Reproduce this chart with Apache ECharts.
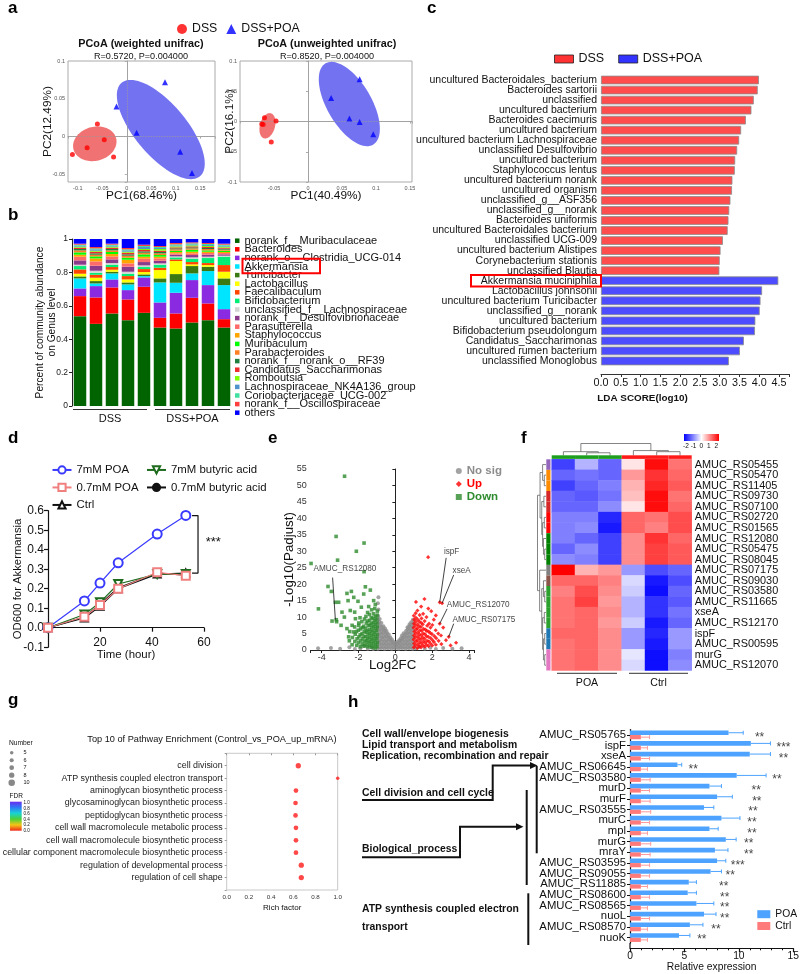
<!DOCTYPE html>
<html>
<head>
<meta charset="utf-8">
<title>Figure</title>
<script src="https://cdn.jsdelivr.net/npm/echarts@6/dist/echarts.min.js"></script>
<style>
  html, body { margin: 0; padding: 0; background: #fff; }
  #fig { width: 800px; height: 974px; }
</style>
</head>
<body>
<div id="fig"></div>
<script>
const FONT = '"Liberation Sans", Arial, Helvetica, sans-serif';

// ---------- a: PCoA ----------
const pcoaWeightedDss = [[-0.111, -0.0235], [-0.081, -0.0146], [-0.060, 0.0168], [-0.046, -0.004], [-0.027, -0.027]];
const pcoaWeightedPoa = [[-0.021, 0.040], [0.020, 0.005], [0.078, 0.072], [0.109, -0.020], [0.133, -0.048]];
const pcoaUnweightedDss = [[-0.064, 0.006], [-0.068, -0.004], [-0.066, -0.005], [-0.047, 0.001], [-0.054, -0.034]];
const pcoaUnweightedPoa = [[0.076, 0.070], [0.034, 0.039], [0.061, 0.005], [0.076, -0.001], [0.096, -0.021]];
// confidence ellipses: centre + two semi-axis vectors, data units
const ellWeightedDss = { c: [-0.0653, -0.0095], u: [0.0434, 0.0075], v: [0.009, -0.0217] };
const ellWeightedPoa = { c: [0.0694, 0.0094], u: [0.080, -0.0618], v: [0.0406, 0.0221] };
const ellUnweightedDss = { c: [-0.0596, -0.0071], u: [0.005, 0.0207], v: [0.0107, -0.0032] };
const ellUnweightedPoa = { c: [0.0608, 0.0289], u: [0.0349, -0.0673], v: [0.0283, 0.0182] };

// ---------- b: genus composition ----------
const samples = ['DSS1', 'DSS2', 'DSS3', 'DSS4', 'DSS5', 'POA1', 'POA2', 'POA3', 'POA4', 'POA5'];
const genera = ['norank_f__Muribaculaceae', 'Bacteroides', 'norank_o__Clostridia_UCG-014', 'Akkermansia', 'Turicibacter',
  'Lactobacillus', 'Faecalibaculum', 'Bifidobacterium', 'unclassified_f__Lachnospiraceae', 'norank_f__Desulfovibrionaceae',
  'Parasutterella', 'Staphylococcus', 'Muribaculum', 'Parabacteroides', 'norank_f__norank_o__RF39', 'Candidatus_Saccharimonas',
  'Romboutsia', 'Lachnospiraceae_NK4A136_group', 'Coriobacteriaceae_UCG-002', 'norank_f__Oscillospiraceae', 'others'];
const genusColors = ['#006400', '#FF0000', '#8A2BE2', '#00E5FF', '#3B7A12', '#FFFF00', '#FF4500', '#00EE76', '#D3D3D3', '#8B3A8B',
  '#FF6A6A', '#FFA500', '#00FF00', '#FF7F24', '#1F7F3F', '#EE2C2C', '#7FFF00', '#4F94CD', '#40E0A0', '#FF3E3E', '#0000FF'];
const abundance = [
  [0.538, 0.492, 0.554, 0.514, 0.558, 0.470, 0.464, 0.500, 0.514, 0.470],
  [0.120, 0.158, 0.156, 0.124, 0.156, 0.058, 0.090, 0.148, 0.100, 0.050],
  [0.046, 0.068, 0.048, 0.056, 0.056, 0.092, 0.124, 0.106, 0.110, 0.060],
  [0.060, 0.016, 0.036, 0.034, 0.008, 0.120, 0.060, 0.040, 0.084, 0.144],
  [0.012, 0.014, 0.010, 0.012, 0.010, 0.024, 0.052, 0.044, 0.026, 0.040],
  [0.016, 0.020, 0.012, 0.018, 0.014, 0.050, 0.078, 0.010, 0.010, 0.040],
  [0.026, 0.018, 0.016, 0.020, 0.018, 0.014, 0.010, 0.014, 0.012, 0.040],
  [0.020, 0.012, 0.014, 0.014, 0.012, 0.018, 0.012, 0.020, 0.030, 0.050],
  [0.008, 0.012, 0.010, 0.012, 0.010, 0.008, 0.006, 0.008, 0.008, 0.006],
  [0.026, 0.030, 0.022, 0.030, 0.020, 0.016, 0.010, 0.014, 0.012, 0.008],
  [0.022, 0.026, 0.018, 0.020, 0.020, 0.014, 0.008, 0.010, 0.010, 0.008],
  [0.012, 0.018, 0.014, 0.022, 0.012, 0.010, 0.008, 0.010, 0.008, 0.006],
  [0.014, 0.012, 0.012, 0.012, 0.014, 0.010, 0.008, 0.012, 0.008, 0.008],
  [0.012, 0.010, 0.010, 0.012, 0.010, 0.010, 0.008, 0.008, 0.008, 0.006],
  [0.008, 0.008, 0.008, 0.008, 0.008, 0.008, 0.006, 0.006, 0.006, 0.006],
  [0.008, 0.010, 0.008, 0.010, 0.008, 0.008, 0.006, 0.006, 0.006, 0.006],
  [0.006, 0.006, 0.006, 0.006, 0.006, 0.010, 0.006, 0.006, 0.006, 0.006],
  [0.006, 0.008, 0.006, 0.008, 0.012, 0.006, 0.006, 0.006, 0.006, 0.006],
  [0.006, 0.006, 0.006, 0.006, 0.006, 0.006, 0.006, 0.006, 0.006, 0.006],
  [0.006, 0.008, 0.006, 0.008, 0.008, 0.006, 0.008, 0.006, 0.006, 0.006],
  [0.028, 0.048, 0.028, 0.054, 0.034, 0.042, 0.024, 0.020, 0.024, 0.028]
];

// ---------- c: LEfSe ----------
const ldaDssNames = ['uncultured Bacteroidales_bacterium', 'Bacteroides sartorii', 'unclassified', 'uncultured bacterium',
  'Bacteroides caecimuris', 'uncultured bacterium', 'uncultured bacterium Lachnospiraceae', 'unclassified Desulfovibrio',
  'uncultured bacterium', 'Staphylococcus lentus', 'uncultured bacterium norank', 'uncultured organism',
  'unclassified_g__ASF356', 'unclassified_g__norank', 'Bacteroides uniformis', 'uncultured Bacteroidales bacterium',
  'unclassified UCG-009', 'uncultured bacterium Alistipes', 'Corynebacterium stationis', 'unclassified Blautia'];
const ldaDssScores = [3.99, 3.96, 3.86, 3.80, 3.66, 3.54, 3.49, 3.44, 3.39, 3.38, 3.32, 3.31, 3.27, 3.24, 3.22, 3.20, 3.08, 3.02, 3.00, 2.99];
const ldaPoaNames = ['Akkermansia muciniphila', 'Lactobacillus johnsonii', 'uncultured bacterium Turicibacter',
  'unclassified_g__norank', 'uncultured bacterium', 'Bifidobacterium pseudolongum', 'Candidatus_Saccharimonas',
  'uncultured rumen bacterium', 'unclassified Monoglobus'];
const ldaPoaScores = [4.48, 4.07, 4.03, 4.01, 3.90, 3.89, 3.61, 3.51, 3.23];

// ---------- d: growth curves ----------
const dHours = [0, 14, 20, 27, 42, 53];
const d7mMPoa = [0, 0.137, 0.229, 0.333, 0.480, 0.576];
const d07mMPoa = [0, 0.056, 0.116, 0.200, 0.284, 0.267];
const d7mMBut = [0, 0.068, 0.130, 0.224, 0.275, 0.275];
const d07mMBut = [0, 0.055, 0.120, 0.205, 0.280, 0.270];
const dCtrl = [0, 0.050, 0.110, 0.200, 0.275, 0.280];
const dSigBracket = [[55.4, 0.575], [57.7, 0.575], [57.7, 0.28], [55.4, 0.28]];

// ---------- e: volcano (log2FC, -log10 padj) ----------
const volcanoNoSig = [
  [-0.95, 0.4], [-0.97, 1.5], [-0.94, 2.6], [-0.96, 3.7], [-0.93, 4.8], [-0.95, 5.9], [-0.97, 7.0], [-0.94, 8.1], [-0.96, 9.2], [-0.93, 10.3], [-0.92, 12.3], [-0.95, 14.2], [-0.92, 16.0],
  [-0.86, 0.8], [-0.84, 1.9], [-0.87, 3.0], [-0.85, 4.1], [-0.83, 5.2], [-0.86, 6.3], [-0.84, 7.4], [-0.87, 8.5], [-0.85, 9.4],
  [-0.77, 0.5], [-0.75, 1.6], [-0.78, 2.7], [-0.76, 3.8], [-0.74, 4.9], [-0.77, 6.0], [-0.75, 7.1], [-0.76, 8.2],
  [-0.67, 0.9], [-0.65, 2.0], [-0.68, 3.1], [-0.66, 4.2], [-0.64, 5.3], [-0.67, 6.4], [-0.65, 7.2],
  [-0.58, 0.4], [-0.56, 1.5], [-0.59, 2.6], [-0.57, 3.7], [-0.55, 4.8], [-0.58, 5.9], [-0.56, 6.5],
  [-0.48, 0.8], [-0.46, 1.9], [-0.49, 3.0], [-0.47, 4.1], [-0.45, 5.1], [-0.48, 5.8],
  [-0.39, 0.5], [-0.37, 1.6], [-0.40, 2.7], [-0.38, 3.8], [-0.36, 4.7],
  [-0.29, 0.9], [-0.27, 2.0], [-0.30, 3.1], [-0.28, 3.9],
  [-0.20, 0.4], [-0.18, 1.5], [-0.21, 2.6], [-0.19, 3.2],
  [-0.10, 0.8], [-0.08, 1.9], [-0.11, 2.5],
  [-0.01, 0.5], [0.01, 1.4], [0.00, 2.1],
  [0.08, 0.9], [0.10, 1.8], [0.09, 2.4],
  [0.18, 0.4], [0.20, 1.3], [0.19, 2.3], [0.21, 3.0],
  [0.27, 0.8], [0.29, 1.9], [0.28, 2.9], [0.30, 3.6],
  [0.37, 0.5], [0.39, 1.6], [0.38, 2.7], [0.40, 3.7], [0.36, 4.4],
  [0.46, 0.9], [0.48, 2.0], [0.47, 3.1], [0.49, 4.2], [0.45, 5.1],
  [0.56, 0.4], [0.58, 1.5], [0.57, 2.6], [0.59, 3.7], [0.55, 4.8], [0.58, 5.8],
  [0.65, 0.8], [0.67, 1.9], [0.66, 3.0], [0.68, 4.1], [0.64, 5.2], [0.67, 6.3], [0.66, 6.9],
  [0.75, 0.5], [0.77, 1.6], [0.76, 2.7], [0.78, 3.8], [0.74, 4.9], [0.77, 6.0], [0.75, 7.1], [0.77, 7.8],
  [0.84, 0.9], [0.86, 2.0], [0.85, 3.1], [0.87, 4.2], [0.83, 5.3], [0.86, 6.4], [0.84, 7.5], [0.86, 8.4],
  [0.94, 0.4], [0.96, 1.5], [0.95, 2.6], [0.97, 3.7], [0.93, 4.8], [0.96, 5.9], [0.94, 7.0], [0.96, 8.1], [0.95, 9.2],
  [-4.2, 0.5], [-3.5, 0.6], [-3.0, 0.4], [-2.5, 0.8], [-2.2, 0.3], [-1.9, 0.5], [-1.7, 1.2], [-1.5, 0.4], [-1.3, 0.9], [-1.2, 0.3],
  [1.1, 0.5], [1.3, 0.9], [1.6, 0.4], [1.9, 0.7], [2.2, 0.3], [2.6, 0.6], [3.1, 0.4], [3.6, 0.5]
];
const volcanoDown = [
  [-2.76, 52.8], [-4.58, 26.3], [-3.22, 34.5], [-3.14, 27.3], [-1.70, 32.5], [-2.12, 30.0], [-1.70, 23.8], [-3.66, 19.3],
  [-3.48, 17.8], [-4.18, 12.5], [-3.44, 8.8], [-3.19, 8.6], [-3.26, 14.5], [-3.08, 14.5], [-3.21, 9.2],
  [-2.63, 17.2], [-2.39, 17.8], [-2.57, 15.0], [-2.26, 16.0], [-2.03, 14.8], [-1.72, 17.0], [-1.36, 18.2], [-1.63, 19.2],
  [-1.18, 15.0], [-1.09, 13.8], [-1.45, 13.2], [-1.85, 13.0], [-2.90, 11.5], [-2.77, 10.0], [-2.45, 12.0], [-2.21, 11.5],
  [-2.17, 9.5], [-2.35, 7.5], [-2.63, 6.5], [-1.99, 7.5], [-2.95, 7.5], [-2.54, 4.0], [-2.27, 5.5],
  [-1.00, 1.0], [-0.98, 2.2], [-1.01, 3.4], [-0.99, 4.6], [-1.02, 5.8], [-0.98, 7.0], [-1.00, 8.2], [-1.01, 9.4], [-0.99, 10.6], [-0.98, 11.8],
  [-1.10, 0.6], [-1.08, 1.8], [-1.11, 3.0], [-1.09, 4.2], [-1.12, 5.4], [-1.08, 6.6], [-1.10, 7.8], [-1.11, 9.0], [-1.09, 10.2], [-1.12, 12.6],
  [-1.20, 1.2], [-1.18, 2.4], [-1.21, 3.6], [-1.19, 4.8], [-1.22, 6.0], [-1.18, 7.2], [-1.20, 8.4], [-1.21, 9.6], [-1.19, 11.0],
  [-1.30, 0.8], [-1.28, 2.0], [-1.31, 3.2], [-1.29, 4.4], [-1.32, 5.6], [-1.28, 6.8], [-1.30, 8.0], [-1.31, 9.8], [-1.29, 12.2],
  [-1.40, 1.4], [-1.38, 2.6], [-1.41, 3.8], [-1.39, 5.0], [-1.42, 6.2], [-1.38, 7.6], [-1.40, 9.0], [-1.41, 10.8],
  [-1.50, 1.0], [-1.48, 2.2], [-1.51, 3.4], [-1.49, 4.6], [-1.52, 5.8], [-1.48, 7.4], [-1.50, 8.8], [-1.51, 11.4],
  [-1.60, 1.6], [-1.58, 2.8], [-1.61, 4.0], [-1.59, 5.4], [-1.62, 6.6], [-1.58, 8.2], [-1.60, 10.2],
  [-1.70, 1.2], [-1.68, 2.6], [-1.71, 4.2], [-1.69, 5.6], [-1.72, 7.2], [-1.68, 9.4],
  [-1.80, 1.8], [-1.78, 3.4], [-1.81, 5.0], [-1.79, 6.8], [-1.82, 8.6],
  [-1.90, 1.0], [-1.88, 2.8], [-1.91, 4.6], [-1.89, 6.4], [-1.92, 9.8],
  [-2.00, 2.2], [-1.98, 4.0], [-2.01, 6.0], [-1.99, 8.2],
  [-2.10, 1.4], [-2.08, 3.4], [-2.11, 5.6],
  [-2.20, 2.6], [-2.18, 4.8], [-2.21, 7.0],
  [-2.35, 1.6], [-2.33, 3.8], [-2.50, 2.8], [-2.48, 5.6]
];
const volcanoUp = [
  [1.78, 28.2], [1.58, 15.5], [2.41, 14.5], [2.54, 14.2], [2.41, 8.0], [2.90, 4.0], [1.12, 14.6], [3.0, 1.4], [3.3, 2.2],
  [2.75, 3.0], [2.6, 6.8], [1.95, 11.8], [2.2, 10.5],
  [1.00, 0.8], [1.02, 2.0], [0.99, 3.2], [1.01, 4.4], [1.03, 5.6], [0.99, 6.8], [1.01, 8.0], [1.02, 9.2], [1.00, 10.4],
  [1.10, 1.4], [1.12, 2.6], [1.09, 3.8], [1.11, 5.0], [1.13, 6.2], [1.09, 7.4], [1.11, 8.6], [1.12, 9.8], [1.10, 11.2],
  [1.20, 0.6], [1.22, 1.8], [1.19, 3.0], [1.21, 4.2], [1.23, 5.4], [1.19, 6.6], [1.21, 7.8], [1.22, 9.2], [1.20, 12.0],
  [1.30, 1.2], [1.32, 2.4], [1.29, 3.6], [1.31, 4.8], [1.33, 6.0], [1.29, 7.2], [1.31, 8.6], [1.32, 10.6],
  [1.40, 0.8], [1.42, 2.0], [1.39, 3.2], [1.41, 4.4], [1.43, 5.8], [1.39, 7.0], [1.41, 8.2], [1.42, 9.6], [1.40, 13.2],
  [1.50, 1.4], [1.52, 2.6], [1.49, 3.8], [1.51, 5.0], [1.53, 6.4], [1.49, 7.8], [1.51, 11.0],
  [1.60, 1.0], [1.62, 2.2], [1.59, 3.4], [1.61, 4.8], [1.63, 6.2], [1.59, 8.8],
  [1.70, 1.6], [1.72, 2.8], [1.69, 4.2], [1.71, 5.8], [1.73, 7.4], [1.69, 10.0],
  [1.80, 1.2], [1.82, 2.6], [1.79, 4.0], [1.81, 5.6], [1.83, 8.0], [1.79, 12.6],
  [1.90, 2.0], [1.92, 3.6], [1.89, 5.2], [1.91, 6.8],
  [2.00, 1.4], [2.02, 3.0], [1.99, 4.8], [2.01, 7.6],
  [2.10, 2.4], [2.12, 4.2], [2.09, 9.2],
  [2.20, 1.6], [2.22, 3.6], [2.19, 6.0],
  [2.35, 2.8], [2.33, 5.0], [2.50, 1.8], [2.48, 4.4]
];
const volcanoNotes = [
  { text: 'AMUC_RS12080', at: [-4.47, 24.7], from: [-3.41, 22.0], to: [-3.26, 9.2] },
  { text: 'ispF', at: [2.61, 29.8], from: [2.76, 28.0], to: [2.41, 14.5] },
  { text: 'xseA', at: [3.08, 24.0], from: [3.17, 22.8], to: [2.54, 14.2] },
  { text: 'AMUC_RS12070', at: [2.77, 13.7], from: [2.81, 12.5], to: [2.41, 8.0] },
  { text: 'AMUC_RS07175', at: [3.08, 9.2], from: [3.17, 8.0], to: [2.90, 4.0] }
];

// ---------- f: heatmap (row z-scores) ----------
const heatRows = ['AMUC_RS05455', 'AMUC_RS05470', 'AMUC_RS11405', 'AMUC_RS09730', 'AMUC_RS07100', 'AMUC_RS02720',
  'AMUC_RS01565', 'AMUC_RS12080', 'AMUC_RS05475', 'AMUC_RS08045', 'AMUC_RS07175', 'AMUC_RS09030', 'AMUC_RS03580',
  'AMUC_RS11665', 'xseA', 'AMUC_RS12170', 'ispF', 'AMUC_RS00595', 'murG', 'AMUC_RS12070'];
const heatCols = ['POA1', 'POA2', 'POA3', 'Ctrl1', 'Ctrl2', 'Ctrl3'];
const heatZ = [
  [-1.5, -0.6, -1.2, 0.2, 1.9, 1.1],
  [-1.2, -1.1, -1.2, 0.8, 1.6, 1.2],
  [-1.5, -1.2, -1.0, 0.6, 1.7, 1.3],
  [-1.2, -1.3, -1.1, 0.5, 1.9, 1.1],
  [-1.2, -1.2, -0.9, 0.2, 1.9, 1.2],
  [-1.0, -1.0, -1.7, 1.2, 1.1, 1.4],
  [-1.0, -0.9, -1.8, 1.2, 1.0, 1.4],
  [-1.0, -1.2, -1.5, 0.9, 1.6, 1.2],
  [-1.2, -0.9, -1.5, 0.9, 1.5, 1.3],
  [-0.9, -1.0, -1.5, 0.9, 1.5, 1.3],
  [2.0, 0.6, 0.8, -0.8, -1.4, -1.2],
  [1.2, 1.2, 1.0, -0.3, -1.8, -1.4],
  [1.0, 1.4, 0.9, -0.4, -1.9, -1.2],
  [1.1, 1.5, 0.8, -0.6, -1.6, -1.3],
  [1.1, 1.2, 0.9, -0.6, -1.6, -1.1],
  [1.1, 1.2, 0.8, -0.4, -1.8, -1.2],
  [1.2, 1.2, 0.9, -0.8, -1.7, -0.8],
  [1.1, 1.2, 0.9, -0.8, -1.8, -0.8],
  [1.1, 1.2, 0.9, -0.2, -1.9, -1.0],
  [1.1, 1.2, 0.9, -0.3, -1.9, -0.9]
];
const rowAnnotColors = ['#9467BD', '#FF8C00', '#FF8C00', '#D62728', '#D62728', '#FF0000', '#FF0000', '#008000', '#008000', '#008000',
  '#808080', '#8C564B', '#2CA02C', '#2CA02C', '#2CA02C', '#2CA02C', '#1F77B4', '#1F77B4', '#E377C2', '#E377C2'];
const colAnnotColors = ['#1E9E1E', '#1E9E1E', '#1E9E1E', '#FF1A1A', '#FF1A1A', '#FF1A1A'];
// dendrograms: [height, left, right], leaves are indices
const colTree = [11, [3.5, 0, [2.5, 1, 2]], [4.5, 3, [3.5, 4, 5]]];
const rowTree = [10, [7, [4, 0, [2, 1, 2]], [5, [2.5, 3, 4], [4, [2, 5, 6], [3, 7, [1.5, 8, 9]]]]],
  [7.5, 10, [5, [3, 11, [1.5, 12, 13]], [4, [2, 14, 15], [3, [1.5, 16, 17], [1.5, 18, 19]]]]]];

// ---------- g: enrichment ----------
const gTerms = ['cell division', 'ATP synthesis coupled electron transport', 'aminoglycan biosynthetic process',
  'glycosaminoglycan biosynthetic process', 'peptidoglycan biosynthetic process', 'cell wall macromolecule metabolic process',
  'cell wall macromolecule biosynthetic process', 'cellular component macromolecule biosynthetic process',
  'regulation of developmental process', 'regulation of cell shape'];
const gRich = [0.645, 1.0, 0.624, 0.62, 0.62, 0.624, 0.624, 0.624, 0.672, 0.672];
const gNumber = [8, 5, 7, 7, 7, 7, 7, 7, 8, 8];
const gNumberTicks = [5, 6, 7, 8, 10];

// ---------- h: qPCR ----------
const hGenes = ['AMUC_RS05765', 'ispF', 'xseA', 'AMUC_RS06645', 'AMUC_RS03580', 'murD', 'murF', 'AMUC_RS03555', 'murC', 'mpl',
  'murG', 'mraY', 'AMUC_RS03595', 'AMUC_RS09055', 'AMUC_RS11885', 'AMUC_RS08600', 'AMUC_RS08565', 'nuoL', 'AMUC_RS08570', 'nuoK'];
const hPoa = [9.05, 11.1, 11.0, 4.36, 9.8, 7.3, 8.0, 6.8, 8.4, 7.3, 8.8, 7.8, 8.0, 7.4, 5.4, 5.3, 6.1, 6.8, 5.5, 4.5];
const hPoaSd = [1.35, 1.8, 1.9, 0.39, 2.7, 1.1, 1.4, 0.9, 1.7, 0.8, 0.95, 1.2, 0.8, 1.0, 0.7, 0.8, 1.6, 1.1, 1.2, 1.0];
const hCtrl = [1, 1, 1, 1, 1, 1, 1, 1, 1, 1, 1, 1, 1, 1, 1, 1, 1, 1, 1, 1];
const hCtrlSd = [0.8, 0.6, 0.8, 0.6, 0.85, 0.8, 0.85, 0.9, 0.8, 0.6, 0.9, 0.85, 0.8, 0.8, 0.6, 0.8, 0.6, 0.8, 0.6, 0.6];
const hSig = ['**', '***', '**', '**', '**', '**', '**', '**', '**', '**', '**', '**', '***', '**', '**', '**', '**', '**', '**', '**'];
const hSigX = [11.9, 14.1, 14.1, 5.8, 13.5, 11.6, 11.65, 11.3, 11.2, 11.2, 10.9, 10.9, 9.9, 9.2, 8.6, 8.7, 8.7, 8.7, 7.9, 6.6];

// ================= build =================
const grids = [], xAxes = [], yAxes = [], series = [], legends = [], graphics = [];
const hidden = { show: false };
function addGrid(g, xa, ya) {
  const idx = grids.length;
  grids.push(Object.assign({ outerBoundsMode: 'none', containLabel: false }, g));
  xAxes.push(Object.assign({ gridIndex: idx, nameMoveOverlap: false }, xa));
  yAxes.push(Object.assign({ gridIndex: idx, nameMoveOverlap: false }, ya));
  return idx;
}
function bare(extra) {
  return Object.assign({ axisLine: hidden, axisTick: hidden, axisLabel: hidden, splitLine: hidden }, extra);
}
function line(color, w) { return { show: true, lineStyle: { color: color, width: w || 1 } }; }
function tick(color, len, w) { return { show: true, length: len, lineStyle: { color: color, width: w || 1 } }; }
function multOf(step) {
  return v => Math.abs(v / step - Math.round(v / step)) < 1e-6 ? String(+v.toFixed(2)) : '';
}
function txt(x, y, s, size, o) {
  o = o || {};
  const al = o.align || 'left';
  return { type: 'text', x: x, y: y, silent: true, z: 100,
    style: { text: s, fill: o.color || '#111', fontSize: size, fontFamily: FONT, fontWeight: o.bold ? 'bold' : 'normal',
      align: al, textAlign: al, verticalAlign: 'middle', textVerticalAlign: 'middle' } };
}
function seg(pts, w, color) {
  return { type: 'polyline', silent: true, z: 100, shape: { points: pts }, style: { stroke: color || '#111', lineWidth: w || 1, fill: null } };
}
function ellipseSeries(ax, e, color) {
  return { type: 'custom', xAxisIndex: ax, yAxisIndex: ax, silent: true, z: 1, data: [e.c],
    renderItem: function (params, api) {
      const pts = [];
      for (let k = 0; k < 90; k++) {
        const t = k / 90 * Math.PI * 2;
        pts.push(api.coord([e.c[0] + Math.cos(t) * e.u[0] + Math.sin(t) * e.v[0],
                            e.c[1] + Math.cos(t) * e.u[1] + Math.sin(t) * e.v[1]]));
      }
      return { type: 'polygon', shape: { points: pts }, style: { fill: color } };
    } };
}
function dendro(node) {
  if (typeof node === 'number') return { pos: node, h: 0, segs: [] };
  const l = dendro(node[1]), r = dendro(node[2]);
  const segs = l.segs.concat(r.segs);
  segs.push([[l.pos, l.h], [l.pos, node[0]], [r.pos, node[0]], [r.pos, r.h]]);
  return { pos: (l.pos + r.pos) / 2, h: node[0], segs: segs };
}

// ----- a -----
const tinyLbl = { fontSize: 5.5, color: '#555', margin: 3 };
const paName = { fontSize: 11.8, color: '#111' };
const GA1 = addGrid({ left: 68, top: 61, width: 147, height: 121, show: true, borderColor: '#aaa', borderWidth: 1 },
  { type: 'value', min: -0.12, max: 0.18, splitNumber: 6, axisLine: line('#aaa'), axisTick: tick('#aaa', 2), splitLine: hidden,
    axisLabel: Object.assign({ formatter: multOf(0.05) }, tinyLbl),
    name: 'PC1(68.46%)', nameLocation: 'middle', nameGap: 8, nameTextStyle: paName },
  { type: 'value', min: -0.06, max: 0.1, splitNumber: 3, axisLine: line('#aaa'), axisTick: tick('#aaa', 2), splitLine: hidden,
    axisLabel: Object.assign({ formatter: multOf(0.05) }, tinyLbl),
    name: 'PC2(12.49%)', nameLocation: 'middle', nameGap: 14.5, nameTextStyle: paName });
const GA2 = addGrid({ left: 240, top: 61, width: 172, height: 121, show: true, borderColor: '#aaa', borderWidth: 1 },
  { type: 'value', min: -0.1, max: 0.153, interval: 0.05, axisLine: line('#aaa'), axisTick: tick('#aaa', 2), splitLine: hidden,
    axisLabel: Object.assign({ formatter: v => (v < -0.099 ? '' : multOf(0.05)(v)) }, tinyLbl),
    name: 'PC1(40.49%)', nameLocation: 'middle', nameGap: 8, nameTextStyle: paName },
  { type: 'value', min: -0.1, max: 0.1, interval: 0.05, axisLine: line('#aaa'), axisTick: tick('#aaa', 2), splitLine: hidden,
    axisLabel: Object.assign({ formatter: multOf(0.05) }, tinyLbl),
    name: 'PC2(16.1%)', nameLocation: 'middle', nameGap: 4.5, nameTextStyle: paName });
[[GA1, pcoaWeightedDss, pcoaWeightedPoa, ellWeightedDss, ellWeightedPoa],
 [GA2, pcoaUnweightedDss, pcoaUnweightedPoa, ellUnweightedDss, ellUnweightedPoa]].forEach(p => {
  series.push(ellipseSeries(p[0], p[3], '#F07272'));
  series.push(ellipseSeries(p[0], p[4], '#7373F2'));
  series.push({ name: 'DSS', type: 'scatter', xAxisIndex: p[0], yAxisIndex: p[0], data: p[1], symbol: 'circle', symbolSize: 5,
    itemStyle: { color: '#FF0000' }, z: 3 });
  series.push({ name: 'DSS+POA', type: 'scatter', xAxisIndex: p[0], yAxisIndex: p[0], data: p[2], symbol: 'triangle', symbolSize: 6,
    itemStyle: { color: '#0000FF' }, z: 3,
    markLine: { silent: true, z: 2, symbol: 'none', label: { show: false },
      lineStyle: { color: '#999', type: 'dotted', width: 0.8 }, data: [{ xAxis: 0 }, { yAxis: 0 }] } });
});
legends.push({ selectedMode: false, left: 177, top: 22, padding: 0, itemWidth: 10, itemHeight: 10, itemGap: 9,
  textStyle: { fontSize: 12.3, lineHeight: 14, color: '#111' },
  data: [{ name: 'DSS', icon: 'circle' }, { name: 'DSS+POA', icon: 'triangle' }] });
graphics.push(txt(141, 44, 'PCoA (weighted unifrac)', 10.8, { bold: true, align: 'center' }));
graphics.push(txt(141, 56, 'R=0.5720, P=0.004000', 9.1, { align: 'center' }));
graphics.push(txt(327, 44, 'PCoA (unweighted unifrac)', 10.8, { bold: true, align: 'center' }));
graphics.push(txt(327, 56, 'R=0.8520, P=0.004000', 9.1, { align: 'center' }));

// ----- b -----
const GB = addGrid({ left: 72, top: 239, width: 160, height: 167 },
  { type: 'category', data: samples, axisLine: hidden, axisTick: hidden, axisLabel: hidden },
  { type: 'value', min: 0, max: 1, interval: 0.2, axisLine: line('#222'), axisTick: tick('#222', 3), splitLine: hidden,
    axisLabel: { fontSize: 8.5, color: '#222', margin: 4 },
    name: 'Percent of community abundance\non Genus level', nameLocation: 'middle', nameGap: 13.5,
    nameTextStyle: { fontSize: 10.2, lineHeight: 12, color: '#111' } });
genera.forEach((g, k) => series.push({ name: g, type: 'bar', stack: 'genus', xAxisIndex: GB, yAxisIndex: GB, barWidth: 12.5,
  data: abundance[k], itemStyle: { color: genusColors[k] } }));
// the genus key sits tighter than the font height, as in the original
legends.push({ selectedMode: false, orient: 'vertical', left: 235, top: 235.2, padding: 0, itemGap: -2.4, itemWidth: 4.5, itemHeight: 4.5,
  icon: 'rect', textStyle: { fontSize: 11, color: '#111' }, data: genera });
graphics.push(seg([[73, 409.5], [147, 409.5]], 1.2, '#333'));
graphics.push(seg([[155, 409.5], [230, 409.5]], 1.2, '#333'));
graphics.push(txt(110, 418.5, 'DSS', 11, { align: 'center' }));
graphics.push(txt(192.5, 418.5, 'DSS+POA', 11, { align: 'center' }));
graphics.push({ type: 'rect', silent: true, z: 100, shape: { x: 242.5, y: 258.8, width: 77.5, height: 14.5 },
  style: { stroke: '#FF0000', lineWidth: 2, fill: null } });

// ----- c -----
const ldaNames = ldaDssNames.concat(ldaPoaNames);
const GC = addGrid({ left: 601, top: 75, width: 188, height: 291 },
  { type: 'value', min: 0, max: 4.75, interval: 0.5, offset: 8, axisLine: line('#333'), axisTick: tick('#333', 3), splitLine: hidden,
    axisLabel: { fontSize: 10.8, color: '#111', margin: 4, formatter: v => (Math.abs(v * 2 - Math.round(v * 2)) < 1e-6 ? v.toFixed(1) : '') } },
  { type: 'category', inverse: true, data: ldaNames.map((n, i) => String(i)), axisLine: hidden, axisTick: hidden,
    axisLabel: { interval: 0, fontSize: 10.5, color: '#111', margin: 4, formatter: (v, i) => ldaNames[i] } });
series.push({ name: 'DSS', type: 'bar', stack: 'lda', xAxisIndex: GC, yAxisIndex: GC, barCategoryGap: '14%',
  data: ldaDssScores.concat(ldaPoaScores.map(() => '-')),
  itemStyle: { color: '#FF4D4D', borderColor: '#8c8c8c', borderWidth: 0.8 } });
series.push({ name: 'DSS+POA', type: 'bar', stack: 'lda', xAxisIndex: GC, yAxisIndex: GC, barCategoryGap: '14%',
  data: ldaDssScores.map(() => '-').concat(ldaPoaScores),
  itemStyle: { color: '#4D4DFF', borderColor: '#8c8c8c', borderWidth: 0.8 } });
legends.push({ selectedMode: false, left: 554, top: 52, padding: 0, itemWidth: 19, itemHeight: 8, itemGap: 14,
  textStyle: { fontSize: 12.5, lineHeight: 14, color: '#111' },
  data: [{ name: 'DSS', icon: 'rect', itemStyle: { color: '#FF0000', borderColor: '#222', borderWidth: 1 } },
         { name: 'DSS+POA', icon: 'rect', itemStyle: { color: '#0000FF', borderColor: '#222', borderWidth: 1 } }] });
graphics.push(txt(597.3, 398.3, 'LDA SCORE(log10)', 9.9, { bold: true }));
graphics.push({ type: 'rect', silent: true, z: 100, shape: { x: 471, y: 275, width: 130, height: 11.5 },
  style: { stroke: '#FF0000', lineWidth: 2, fill: null } });

// ----- d -----
const GD = addGrid({ left: 48, top: 510.7, width: 156, height: 136.5 },
  { type: 'value', min: 0, max: 60, interval: 20, offset: -14, axisLine: line('#111', 1.2), axisTick: tick('#111', 4, 1.2), splitLine: hidden,
    axisLabel: { fontSize: 12, color: '#111', margin: 3, formatter: v => (v === 0 ? '' : String(v)) },
    name: 'Time (hour)', nameLocation: 'middle', nameGap: 16.5, nameTextStyle: { fontSize: 11.4, color: '#111' } },
  { type: 'value', min: -0.1, max: 0.6, interval: 0.1, axisLine: line('#111', 1.2), axisTick: tick('#111', 4, 1.2), splitLine: hidden,
    axisLabel: { fontSize: 12, color: '#111', margin: 4, formatter: v => v.toFixed(1) },
    name: 'OD600 for Akkermansia', nameLocation: 'middle', nameGap: 25, nameTextStyle: { fontSize: 11.3, color: '#111' } });
function dLine(name, vals, color, symbol, size, rot) {
  return { name: name, type: 'line', xAxisIndex: GD, yAxisIndex: GD, data: dHours.map((h, i) => [h, vals[i]]),
    symbol: symbol, symbolSize: size, symbolRotate: rot || 0, lineStyle: { color: color, width: 1.2 },
    itemStyle: { color: color, borderColor: color, borderWidth: 1.2 } };
}
series.push(dLine('7mM POA', d7mMPoa, '#3A3AFF', 'emptyCircle', 9));
series.push(dLine('Ctrl', dCtrl, '#111', 'emptyTriangle', 7));
series.push(dLine('0.7mM butyric acid', d07mMBut, '#111', 'circle', 4));
series.push(dLine('7mM butyric acid', d7mMBut, '#1E6B1E', 'emptyTriangle', 8, 180));
series.push(dLine('0.7mM POA', d07mMPoa, '#F08080', 'emptyRect', 8));
series.push({ type: 'line', xAxisIndex: GD, yAxisIndex: GD, data: dSigBracket, symbol: 'none', silent: true,
  lineStyle: { color: '#111', width: 1.2 } });
legends.push({ selectedMode: false, orient: 'vertical', left: 51.5, top: 463.2, padding: 0, itemWidth: 19, itemHeight: 9, itemGap: 4,
  textStyle: { fontSize: 11.4, lineHeight: 13.5, color: '#111' }, data: ['7mM POA', '0.7mM POA', 'Ctrl'] });
legends.push({ selectedMode: false, orient: 'vertical', left: 146, top: 463.2, padding: 0, itemWidth: 19, itemHeight: 9, itemGap: 4,
  textStyle: { fontSize: 11.4, lineHeight: 13.5, color: '#111' }, data: ['7mM butyric acid', '0.7mM butyric acid'] });
graphics.push(txt(205.7, 542.6, '***', 13));

// ----- e -----
const GE = addGrid({ left: 310.7, top: 469, width: 163.8, height: 181 },
  { type: 'value', min: -4.6, max: 4.3, splitNumber: 4, axisLine: line('#222'), axisTick: tick('#222', 3), splitLine: hidden,
    axisLabel: { fontSize: 9, color: '#333', margin: 3,
      formatter: v => (Math.abs(v - Math.round(v)) < 1e-6 && Math.round(v) % 2 === 0 ? String(Math.round(v)) : '') },
    name: 'Log2FC', nameLocation: 'middle', nameGap: 9.3, nameTextStyle: { fontSize: 13.3, color: '#111' } },
  { type: 'value', min: 0, max: 55, interval: 5, axisLine: line('#222'), axisTick: tick('#222', 3), splitLine: hidden,
    axisLabel: { fontSize: 9, color: '#333', margin: 4 },
    name: '-Log10(Padjust)', nameLocation: 'middle', nameGap: 14.7, nameTextStyle: { fontSize: 13.3, color: '#111' } });
series.push({ name: 'No sig', type: 'scatter', xAxisIndex: GE, yAxisIndex: GE, data: volcanoNoSig, symbol: 'circle', symbolSize: 4,
  itemStyle: { color: '#8C8C8C' }, z: 2 });
series.push({ name: 'Down', type: 'scatter', xAxisIndex: GE, yAxisIndex: GE, data: volcanoDown, symbol: 'rect', symbolSize: 3.6,
  itemStyle: { color: '#2E8B2E' }, z: 3 });
series.push({ name: 'Up', type: 'scatter', xAxisIndex: GE, yAxisIndex: GE, data: volcanoUp, symbol: 'diamond', symbolSize: 4.2,
  itemStyle: { color: '#FF0000' }, z: 3 });
series.push({ type: 'lines', coordinateSystem: 'cartesian2d', xAxisIndex: GE, yAxisIndex: GE, silent: true, z: 4,
  lineStyle: { color: '#111', width: 0.8, opacity: 1 }, data: volcanoNotes.map(n => ({ coords: [n.from, n.to] })) });
series.push({ type: 'scatter', xAxisIndex: GE, yAxisIndex: GE, silent: true, z: 5, symbolSize: 1, itemStyle: { color: 'rgba(0,0,0,0)' },
  data: volcanoNotes.map(n => ({ value: n.at, name: n.text })),
  label: { show: true, position: 'right', distance: 0, formatter: '{b}', fontSize: 8.2, color: '#111' } });
legends.push({ selectedMode: false, orient: 'vertical', left: 455.8, top: 464.5, padding: 0, itemWidth: 6, itemHeight: 6, itemGap: 0,
  textStyle: { fontSize: 11.5, fontWeight: 'bold', lineHeight: 13 },
  data: [{ name: 'No sig', icon: 'circle', textStyle: { color: '#8C8C8C' } },
         { name: 'Up', icon: 'diamond', textStyle: { color: '#FF0000' } },
         { name: 'Down', icon: 'rect', textStyle: { color: '#2E8B2E' } }] });

// ----- f -----
const GF = addGrid({ left: 551.7, top: 459.3, width: 140, height: 211.2 },
  bare({ type: 'category', data: heatCols }),
  { type: 'category', inverse: true, position: 'right', data: heatRows, axisLine: hidden, axisTick: hidden, splitLine: hidden,
    axisLabel: { interval: 0, fontSize: 10.9, color: '#111', margin: 3 } });
const heatIdx = series.length;
series.push({ type: 'heatmap', xAxisIndex: GF, yAxisIndex: GF, silent: true,
  data: heatZ.flatMap((row, r) => row.map((z, c) => [c, r, z])) });
const GFR = addGrid({ left: 546.3, top: 459.3, width: 4.2, height: 211.2 },
  bare({ type: 'value', min: 0, max: 1 }), bare({ type: 'category', inverse: true, data: heatRows }));
series.push({ type: 'bar', xAxisIndex: GFR, yAxisIndex: GFR, silent: true, barCategoryGap: 0,
  data: rowAnnotColors.map(c => ({ value: 1, itemStyle: { color: c } })) });
const GFC = addGrid({ left: 551.7, top: 455.3, width: 140, height: 3.6 },
  bare({ type: 'category', data: heatCols }), bare({ type: 'value', min: 0, max: 1 }));
series.push({ type: 'bar', xAxisIndex: GFC, yAxisIndex: GFC, silent: true, barCategoryGap: 0,
  data: colAnnotColors.map(c => ({ value: 1, itemStyle: { color: c } })) });
const GFT = addGrid({ left: 551.7, top: 443.5, width: 140, height: 12 },
  bare({ type: 'value', min: -0.5, max: 5.5 }), bare({ type: 'value', min: 0, max: 11 }));
series.push({ type: 'lines', coordinateSystem: 'cartesian2d', polyline: true, xAxisIndex: GFT, yAxisIndex: GFT, silent: true,
  lineStyle: { color: '#666', width: 0.8, opacity: 1 }, data: dendro(colTree).segs.map(s => ({ coords: s })) });
const GFL = addGrid({ left: 537.5, top: 459.3, width: 8.5, height: 211.2 },
  bare({ type: 'value', min: 0, max: 10, inverse: true }), bare({ type: 'value', min: -0.5, max: 19.5, inverse: true }));
series.push({ type: 'lines', coordinateSystem: 'cartesian2d', polyline: true, xAxisIndex: GFL, yAxisIndex: GFL, silent: true,
  lineStyle: { color: '#666', width: 0.8, opacity: 1 },
  data: dendro(rowTree).segs.map(s => ({ coords: s.map(p => [p[1], p[0]]) })) });
graphics.push({ type: 'rect', silent: true, z: 100, shape: { x: 684, y: 434, width: 35, height: 7 },
  style: { fill: new echarts.graphic.LinearGradient(0, 0, 1, 0, [{ offset: 0, color: '#0000FF' }, { offset: 0.5, color: '#FFFFFF' }, { offset: 1, color: '#FF0000' }]) } });
['-2', '-1', '0', '1', '2'].forEach((s, i) => graphics.push(txt(686 + i * 7.6, 446, s, 6.5, { align: 'center' })));
graphics.push(seg([[557, 673.3], [617, 673.3]], 1, '#333'));
graphics.push(seg([[629, 673.3], [688, 673.3]], 1, '#333'));
graphics.push(txt(587, 683, 'POA', 10.6, { align: 'center' }));
graphics.push(txt(658.5, 683, 'Ctrl', 10.6, { align: 'center' }));

// ----- g -----
const gSize = n => 0.6 * n + 0.5;
const GG = addGrid({ left: 226.7, top: 753.3, width: 111, height: 136.7, show: true, borderColor: '#c8c8c8', borderWidth: 1 },
  { type: 'value', min: 0, max: 1, interval: 0.2, axisLine: hidden, axisTick: tick('#999', 2), splitLine: hidden,
    axisLabel: { fontSize: 6.2, color: '#333', margin: 4, formatter: v => v.toFixed(1) },
    name: 'Rich factor', nameLocation: 'middle', nameGap: 14, nameTextStyle: { fontSize: 8, color: '#111' } },
  { type: 'value', min: 0, max: 11, interval: 1, inverse: true, axisLine: hidden, axisTick: tick('#999', 2), splitLine: hidden,
    axisLabel: { fontSize: 8.9, color: '#222', margin: 4, formatter: v => (v >= 1 && v <= 10 ? gTerms[v - 1] : '') } });
series.push({ type: 'scatter', xAxisIndex: GG, yAxisIndex: GG, clip: false, data: gRich.map((r, i) => [r, i + 1, gNumber[i]]),
  symbolSize: d => gSize(d[2]), itemStyle: { color: '#FF1A1A' } });
graphics.push(txt(87.3, 739.3, 'Top 10 of Pathway Enrichment (Control_vs_POA_up_mRNA)', 9.2));
graphics.push(txt(9, 743.3, 'Number', 6.7));
gNumberTicks.forEach((n, i) => {
  const y = 752.7 + i * 7.5;
  graphics.push({ type: 'circle', silent: true, z: 100, shape: { cx: 11.7, cy: y, r: gSize(n) / 2 }, style: { fill: '#888' } });
  graphics.push(txt(23.5, y, String(n), 5.5));
});
graphics.push(txt(9.5, 796, 'FDR', 6.5));
graphics.push({ type: 'rect', silent: true, z: 100, shape: { x: 10, y: 801.7, width: 11.7, height: 29 },
  style: { fill: new echarts.graphic.LinearGradient(0, 0, 0, 1, [{ offset: 0, color: '#6A2CF0' }, { offset: 0.2, color: '#2D7BF5' },
    { offset: 0.4, color: '#19D3D3' }, { offset: 0.6, color: '#4CD137' }, { offset: 0.8, color: '#F5C518' }, { offset: 1, color: '#F02A1A' }]) } });
['1.0', '0.8', '0.6', '0.4', '0.2', '0.0'].forEach((s, i) => graphics.push(txt(23.5, 803 + i * 5.5, s, 4.6)));

// ----- h -----
const GH = addGrid({ left: 630, top: 729.5, width: 163.3, height: 213.4 },
  { type: 'value', min: 0, max: 15, interval: 5, offset: 5.4, axisLine: line('#111', 1.2), axisTick: tick('#111', 4, 1.2),
    minorTick: { show: true, splitNumber: 5, length: 2, lineStyle: { color: '#111' } }, splitLine: hidden,
    axisLabel: { fontSize: 10.3, color: '#111', margin: 3 },
    name: 'Relative expression', nameLocation: 'middle', nameGap: 14, nameTextStyle: { fontSize: 10.3, color: '#111' } },
  { type: 'category', inverse: true, data: hGenes, axisLine: line('#111', 1.2),
    axisTick: { show: true, alignWithLabel: true, interval: 0, length: 3, lineStyle: { color: '#111', width: 1 } },
    axisLabel: { interval: 0, fontSize: 11.3, color: '#111', margin: 4 } });
series.push({ name: 'POA', type: 'bar', xAxisIndex: GH, yAxisIndex: GH, data: hPoa, barWidth: 4.6, barGap: '0%',
  itemStyle: { color: '#4DA3FF' } });
series.push({ name: 'Ctrl', type: 'bar', xAxisIndex: GH, yAxisIndex: GH, data: hCtrl, barWidth: 4.2, barGap: '0%',
  itemStyle: { color: '#FF7B7B' } });
function errSeries(vals, sds, offset, color) {
  return { type: 'custom', xAxisIndex: GH, yAxisIndex: GH, silent: true, z: 3,
    data: vals.map((v, i) => [v + sds[i], i, v]), encode: { x: [0, 2], y: 1 },
    renderItem: function (params, api) {
      const i = api.value(1);
      const a = api.coord([api.value(2), i]);
      const b = api.coord([api.value(0), i]);
      const y = a[1] + offset;
      return { type: 'group', children: [
        { type: 'line', shape: { x1: a[0], y1: y, x2: b[0], y2: y }, style: { stroke: color, lineWidth: 1 } },
        { type: 'line', shape: { x1: b[0], y1: y - 2, x2: b[0], y2: y + 2 }, style: { stroke: color, lineWidth: 1 } }
      ] };
    } };
}
series.push(errSeries(hPoa, hPoaSd, -2.1, '#4DA3FF'));
series.push(errSeries(hCtrl, hCtrlSd, 2.3, '#FF9A9A'));
series.push({ type: 'scatter', xAxisIndex: GH, yAxisIndex: GH, silent: true, z: 5, symbolSize: 1, itemStyle: { color: 'rgba(0,0,0,0)' },
  data: hSig.map((s, i) => ({ value: [hSigX[i], i], name: s })),
  label: { show: true, position: 'inside', formatter: '{b}', fontSize: 12, color: '#111', offset: [0, 2.5] } });
legends.push({ selectedMode: false, orient: 'vertical', left: 757.3, top: 908.3, padding: 0, icon: 'rect', itemWidth: 13, itemHeight: 8,
  itemGap: 0, textStyle: { fontSize: 10.3, lineHeight: 11.8, color: '#111' },
  data: [{ name: 'POA', itemStyle: { color: '#4DA3FF', borderWidth: 0 } },
         { name: 'Ctrl', itemStyle: { color: '#FF7B7B', borderWidth: 0 } }] });
graphics.push(seg([[630, 942.9], [630, 948.3]], 1.2, '#111'));
const hb = { bold: true };
graphics.push(txt(362, 734, 'Cell wall/envelope biogenesis', 10.4, hb));
graphics.push(txt(362, 745, 'Lipid transport and metabolism', 10.4, hb));
graphics.push(txt(362, 756, 'Replication, recombination and repair', 10.4, hb));
graphics.push(txt(362, 792.7, 'Cell division and cell cycle', 10.4, hb));
graphics.push(txt(362, 849.3, 'Biological_process', 10.4, hb));
graphics.push(txt(362, 909.3, 'ATP synthesis coupled electron', 10.4, hb));
graphics.push(txt(362, 927.3, 'transport', 10.4, hb));
graphics.push(seg([[362, 800], [492.7, 800], [492.7, 765.5], [531, 765.5]], 2));
graphics.push({ type: 'polygon', silent: true, z: 100, shape: { points: [[530, 762], [537.5, 765.5], [530, 769]] }, style: { fill: '#111' } });
graphics.push(seg([[362, 857.3], [460, 857.3], [460, 826.7], [517, 826.7]], 2));
graphics.push({ type: 'polygon', silent: true, z: 100, shape: { points: [[516, 823.2], [523.5, 826.7], [516, 830.2]] }, style: { fill: '#111' } });
graphics.push(seg([[536.7, 766], [536.7, 853.3]], 2));
graphics.push(seg([[526.7, 790], [526.7, 885]], 2));
graphics.push(seg([[528.3, 893.3], [528.3, 945]], 2));

// panel letters
[['a', 8, 8.4], ['b', 8, 215.7], ['c', 427, 8.4], ['d', 8, 438.7], ['e', 268, 438.7], ['f', 521, 438.7], ['g', 8, 700.2], ['h', 348, 702]]
  .forEach(l => graphics.push(txt(l[1], l[2], l[0], 17, { bold: true, color: '#000' })));

const chart = echarts.init(document.getElementById('fig'), null, { renderer: 'canvas' });
chart.setOption({
  animation: false,
  backgroundColor: '#fff',
  textStyle: { fontFamily: FONT },
  grid: grids,
  xAxis: xAxes,
  yAxis: yAxes,
  legend: legends,
  visualMap: [{ show: false, type: 'continuous', seriesIndex: heatIdx, dimension: 2, min: -2, max: 2,
    inRange: { color: ['#0000FF', '#FFFFFF', '#FF0000'] } }],
  series: series,
  graphic: { elements: graphics }
});
</script>
</body>
</html>
